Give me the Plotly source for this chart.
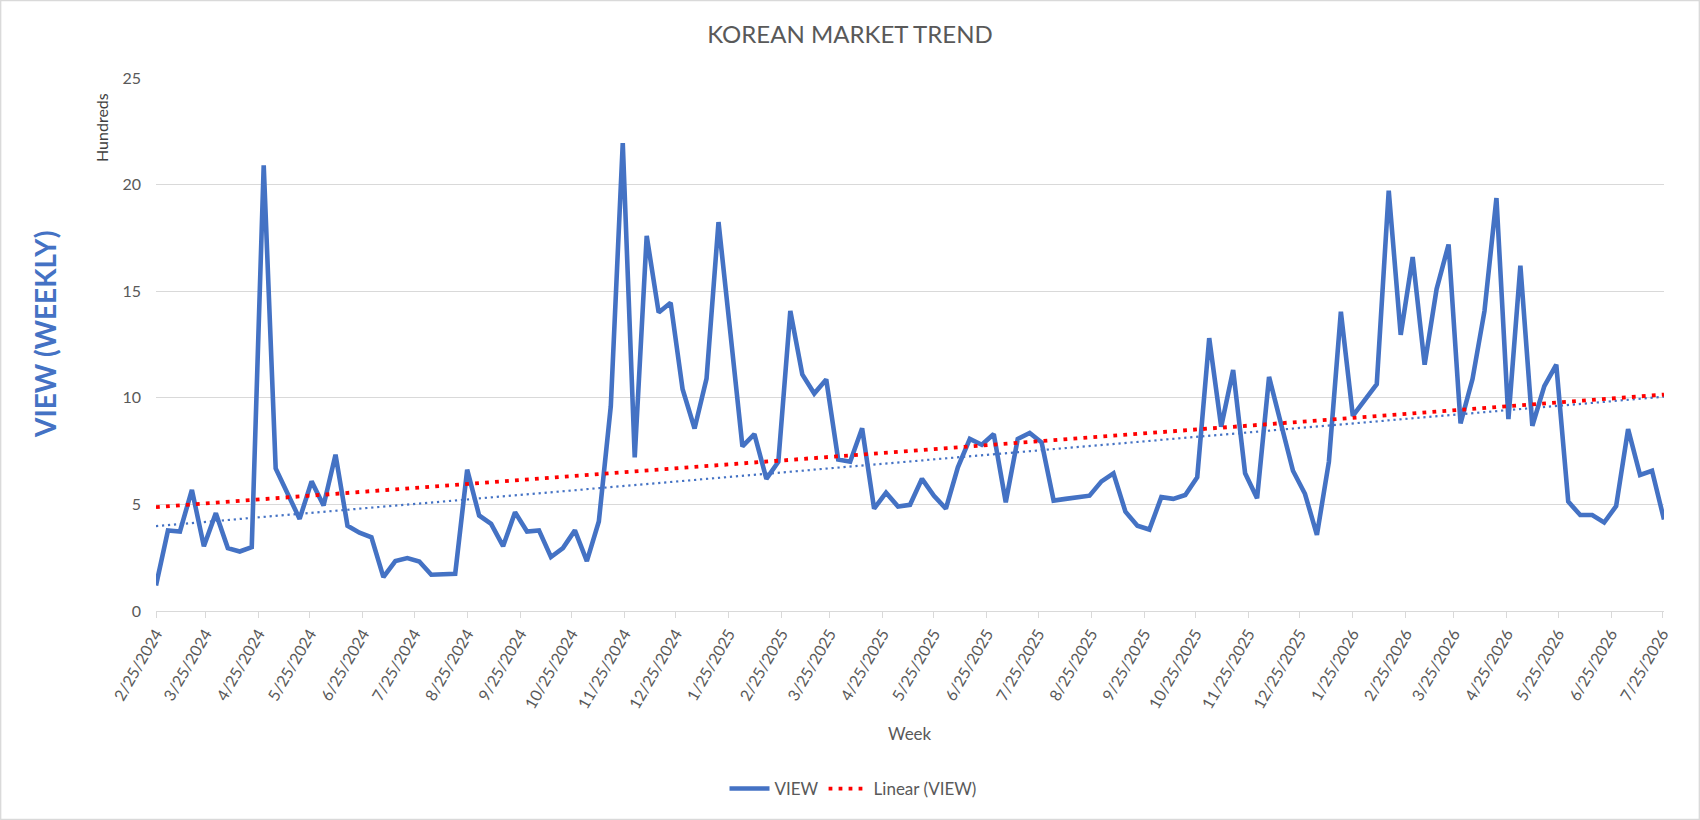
import pandas as pd
import plotly.graph_objects as go

# ---- data (values in hundreds of views, weekly from 2/25/2024) ----
start_date = "2024-02-25"
n_weeks = 127
weeks = pd.date_range(start=start_date, periods=n_weeks, freq="7D")

view = [
    1.2, 3.78, 3.73, 5.68, 3.04, 4.59, 2.95, 2.79, 3.0, 20.9,
    6.69, 5.49, 4.32, 6.08, 4.95, 7.33, 4.0, 3.67, 3.46, 1.59,
    2.34, 2.48, 2.32, 1.70, 1.70, 1.75, 6.63, 4.48, 4.09, 3.04,
    4.63, 3.73, 3.78, 2.53, 2.95, 3.78, 2.34, 4.2, 9.6, 21.95,
    7.2, 17.6, 14.0, 14.46, 10.4, 8.56, 10.9, 18.24, 13.0, 7.72,
    8.3, 6.2, 7.0, 14.08, 11.1, 10.2, 10.86, 7.1, 7.0, 8.57,
    4.8, 5.55, 4.9, 4.98, 6.2, 5.4, 4.8, 6.74, 8.07, 7.8,
    8.3, 5.1, 8.07, 8.35, 7.9, 5.18, 5.26, 5.34, 5.41, 6.08,
    6.46, 4.66, 4.0, 3.82, 5.34, 5.26, 5.44, 6.27, 12.8, 8.64,
    11.3, 6.46, 5.29, 10.98, 8.8, 6.58, 5.5, 3.57, 7.0, 14.04,
    9.15, 9.9, 10.64, 19.72, 12.95, 16.6, 11.55, 15.1, 17.19, 8.8,
    10.88, 14.07, 19.37, 9.0, 16.2, 8.69, 10.55, 11.55, 5.13, 4.5,
    4.5, 4.15, 4.92, 8.53, 6.38, 6.58, 4.29,
]

# trendline endpoints
red_trend = [4.87, 10.15]
blue_trend = [3.98, 10.05]

tick_dates = pd.date_range(start="2024-02-01", end="2026-07-01", freq="MS") + pd.Timedelta(days=24)
tick_labels = [f"{d.month}/{d.day}/{d.year}" for d in tick_dates]

y_ticks = [0, 5, 10, 15, 20, 25]

# ---- styling ----
FONT = "Lato"
GREY = "#595959"
GRID = "#D9D9D9"
BLUE = "#4472C4"

W, H = 1700, 820
ML, MR, MT, MB = 156, 36, 78, 209
PW, PH = W - ML - MR, H - MT - MB


def px_x(px):
    return (px - ML) / PW


def px_y(py):
    return (H - MB - py) / PH


fig = go.Figure()

fig.add_trace(go.Scatter(
    x=weeks, y=view, mode="lines", name="VIEW",
    line=dict(color=BLUE, width=4.6),
))

fig.add_trace(go.Scatter(
    x=[weeks[0], weeks[-1]], y=blue_trend, mode="lines", showlegend=False,
    line=dict(color=BLUE, width=2.2, dash="2.2px,3.8px"), hoverinfo="skip",
))

fig.add_trace(go.Scatter(
    x=[weeks[0], weeks[-1]], y=red_trend, mode="lines", name="Linear (VIEW)",
    line=dict(color="#FF0000", width=3.8, dash="3.8px,6.2px"),
))

fig.update_layout(
    width=W, height=H, autosize=False,
    margin=dict(l=ML, r=MR, t=MT, b=MB, pad=0),
    paper_bgcolor="white", plot_bgcolor="white",
    font=dict(family=FONT, color=GREY, size=16),
    title=dict(text="KOREAN MARKET TREND", xref="container", x=0.5, xanchor="center",
               yref="container", y=1 - 35 / H, yanchor="middle",
               font=dict(family=FONT, size=24, color=GREY)),
    showlegend=True,
    legend=dict(orientation="h", x=px_x(853), xanchor="center", y=px_y(789), yanchor="middle",
                font=dict(family=FONT, size=17, color=GREY), bgcolor="rgba(0,0,0,0)",
                itemwidth=40),
    xaxis=dict(
        type="date", range=[weeks[0], weeks[-1]],
        tickmode="array", tickvals=tick_dates, ticktext=tick_labels,
        tickangle=-60, tickfont=dict(family=FONT, size=16, color=GREY),
        showgrid=False, zeroline=False,
        showline=True, linecolor=GRID, linewidth=1.3,
        ticks="outside", ticklen=6, tickcolor=GRID, tickwidth=1.3,
    ),
    yaxis=dict(
        range=[0, 25], tickmode="array", tickvals=y_ticks,
        tickfont=dict(family=FONT, size=16, color=GREY),
        showgrid=True, gridcolor=GRID, gridwidth=1.3,
        zeroline=False, showline=False, ticks="", ticklabelstandoff=14,
    ),
    annotations=[
        dict(text="Week", xref="paper", yref="paper", x=0.5, y=px_y(733),
             xanchor="center", yanchor="middle", showarrow=False,
             font=dict(family=FONT, size=17, color=GREY)),
        dict(text="Hundreds", xref="paper", yref="paper", x=px_x(101), y=px_y(128),
             xanchor="center", yanchor="middle", showarrow=False, textangle=-90,
             font=dict(family=FONT, size=16, color="#404040")),
        dict(text="<b>VIEW (WEEKLY)</b>", xref="paper", yref="paper", x=px_x(45), y=px_y(335),
             xanchor="center", yanchor="middle", showarrow=False, textangle=-90,
             font=dict(family=FONT, size=28, color=BLUE)),
    ],
    shapes=[
        dict(type="rect", xref="paper", yref="paper",
             x0=px_x(0.7), x1=px_x(W - 0.7), y0=px_y(H - 0.7), y1=px_y(0.7),
             line=dict(color=GRID, width=1.3), fillcolor="rgba(0,0,0,0)", layer="below"),
    ],
)

fig.write_html("out.html", include_plotlyjs=True, full_html=True,
               config={"displayModeBar": False},
               post_script="document.body.style.margin='0';document.body.style.overflow='hidden';")
